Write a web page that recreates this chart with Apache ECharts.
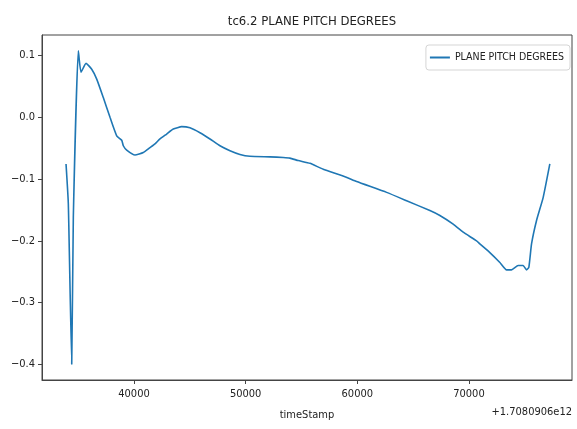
<!DOCTYPE html>
<html>
<head>
<meta charset="utf-8">
<script src="https://cdn.jsdelivr.net/npm/echarts@6/dist/echarts.min.js"></script>
<style>
  html, body { margin: 0; padding: 0; background: #fff; }
  #chart { width: 577px; height: 429px; }
</style>
</head>
<body>
<div id="chart"></div>
<script>
// timeStamp minus 1.7080906e12 (ms)
const timeOffsets = [
  33912, 34118, 34422, 34566, 35013, 35255, 35703, 36213, 36661, 37251,
  37851, 38451, 38899, 39042, 39346, 40090, 40833, 41432, 41880, 42328,
  42928, 43519, 44271, 45014, 45909, 46804, 47700, 48595, 49490, 50385,
  52176, 53367, 53967, 54710, 55757, 56948, 58891, 59938, 62624, 64415,
  66501, 67396, 68587, 69482, 70682, 70977, 71873, 72768, 73368, 73815,
  74406, 74854, 75158, 75364, 75606, 76054, 76645, 77244
]
const pitchValues = [
  -0.0755, -0.140, -0.400, -0.162, 0.108, 0.073, 0.0875, 0.078, 0.062, 0.032,
  0.0, -0.030, -0.037, -0.046, -0.053, -0.061, -0.057, -0.049, -0.043, -0.035,
  -0.027, -0.019, -0.015, -0.017, -0.025, -0.035, -0.046, -0.054, -0.060, -0.063,
  -0.064, -0.065, -0.066, -0.070, -0.0745, -0.084, -0.096, -0.104, -0.1215, -0.135,
  -0.151, -0.159, -0.173, -0.186, -0.200, -0.205, -0.219, -0.235, -0.247, -0.247,
  -0.240, -0.240, -0.247, -0.243, -0.205, -0.167, -0.130, -0.0755
]
const xTicks = [40000, 50000, 60000, 70000]
const yTicks = [-0.4, -0.3, -0.2, -0.1, 0.0, 0.1]

const font = 'DejaVu Sans Condensed, DejaVu Sans, sans-serif'
const chart = echarts.init(document.getElementById('chart'), null, { renderer: 'canvas' })

const option = {
  animation: false,
  backgroundColor: '#fff',
  title: {
    text: 'tc6.2 PLANE PITCH DEGREES',
    left: 307,
    textAlign: 'center',
    top: 10,
    textStyle: { fontFamily: font, fontSize: 13, fontWeight: 'normal', color: '#222' }
  },
  legend: {
    data: ['PLANE PITCH DEGREES'],
    right: 7,
    top: 45,
    orient: 'vertical',
    icon: 'rect',
    itemWidth: 20,
    itemHeight: 2,
    itemGap: 6,
    padding: [7, 6, 7, 4],
    borderColor: '#d5d5d5',
    borderWidth: 1,
    borderRadius: 3,
    textStyle: { fontFamily: font, fontSize: 10.5, color: '#222' }
  },
  grid: {
    left: 42,
    right: 5,
    top: 35,
    height: 345,
    show: true,
    borderColor: '#444',
    borderWidth: 1
  },
  xAxis: {
    type: 'value',
    min: 31760,
    max: 79230,
    name: 'timeStamp',
    nameLocation: 'middle',
    nameGap: 30,
    nameTextStyle: { fontFamily: font, fontSize: 11, color: '#222' },
    splitLine: { show: false },
    axisLine: { show: true, onZero: false, lineStyle: { color: '#444' } },
    axisTick: { show: true, customValues: xTicks, length: 4, lineStyle: { color: '#444' } },
    axisLabel: {
      customValues: xTicks,
      fontFamily: font, fontSize: 11, color: '#222', margin: 9,
      formatter: v => String(v)
    }
  },
  yAxis: {
    type: 'value',
    min: -0.4254,
    max: 0.1334,
    splitLine: { show: false },
    axisLine: { show: true, onZero: false, lineStyle: { color: '#444' } },
    axisTick: { show: true, customValues: yTicks, length: 4, lineStyle: { color: '#444' } },
    axisLabel: {
      customValues: yTicks,
      fontFamily: font, fontSize: 11, color: '#222', margin: 7,
      formatter: v => v.toFixed(1).replace('-', '\u2212')
    }
  },
  graphic: [{
    type: 'text',
    right: 5,
    top: 407,
    style: { text: '+1.7080906e12', fontFamily: font, fontSize: 11, fill: '#222' }
  }],
  series: [{
    name: 'PLANE PITCH DEGREES',
    type: 'line',
    data: timeOffsets.map((t, i) => [t, pitchValues[i]]),
    showSymbol: false,
    symbol: 'none',
    smooth: 0.15,
    lineStyle: { color: '#1f77b4', width: 1.6 },
    itemStyle: { color: '#1f77b4' }
  }]
}
chart.setOption(option)
</script>
</body>
</html>
